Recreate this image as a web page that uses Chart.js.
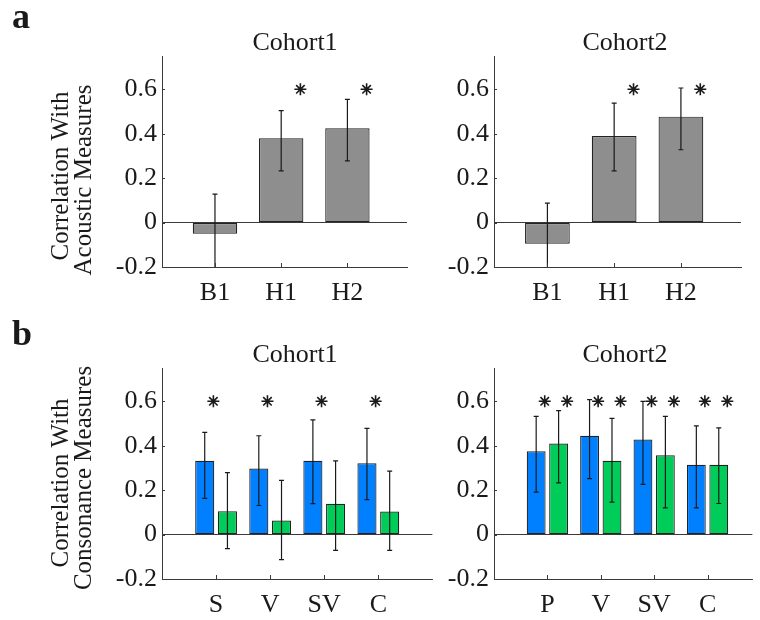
<!DOCTYPE html>
<html>
<head>
<meta charset="utf-8">
<script src="https://cdn.jsdelivr.net/npm/chart.js@4.4.1/dist/chart.umd.min.js"></script>
<style>
  body { margin: 0; background: #fff; }
  #wrap { position: relative; width: 760px; height: 620px; overflow: hidden; }
  canvas { position: absolute; }
</style>
</head>
<body>
<div id="wrap">
  <canvas id="a1" width="430" height="310" style="left:0;top:0"></canvas>
  <canvas id="a2" width="330" height="310" style="left:430px;top:0"></canvas>
  <canvas id="b1" width="440" height="310" style="left:0;top:310px"></canvas>
  <canvas id="b2" width="320" height="310" style="left:440px;top:310px"></canvas>
</div>
<script>
// y axis, shared by all four panels
const yTicks = [-0.2, 0, 0.2, 0.4, 0.6];
const yTickLabels = ['-0.2', '0', '0.2', '0.4', '0.6'];
const starLevel = 0.6;

// panel a
const catsA = ['B1', 'H1', 'H2'];
const a1Values = [-0.05, 0.38, 0.425];
const a1Lo     = [-0.23, 0.233, 0.278];
const a1Hi     = [0.128, 0.504, 0.555];
const a1Stars  = [false, true, true];

const a2Values = [-0.095, 0.39, 0.477];
const a2Lo     = [-0.23, 0.233, 0.328];
const a2Hi     = [0.088, 0.538, 0.606];
const a2Stars  = [false, true, true];

// panel b
const catsB1 = ['S', 'V', 'SV', 'C'];
const b1Blue    = [0.332, 0.297, 0.332, 0.321];
const b1BlueLo  = [0.163, 0.131, 0.139, 0.157];
const b1BlueHi  = [0.46, 0.445, 0.516, 0.478];
const b1Green   = [0.105, 0.063, 0.139, 0.104];
const b1GreenLo = [-0.063, -0.113, -0.071, -0.071];
const b1GreenHi = [0.279, 0.244, 0.332, 0.286];
const b1BlueStars  = [true, true, true, true];
const b1GreenStars = [false, false, false, false];

const catsB2 = ['P', 'V', 'SV', 'C'];
const b2Blue    = [0.375, 0.445, 0.428, 0.314];
const b2BlueLo  = [0.191, 0.252, 0.226, 0.12];
const b2BlueHi  = [0.532, 0.608, 0.6, 0.489];
const b2Green   = [0.41, 0.332, 0.357, 0.314];
const b2GreenLo = [0.233, 0.146, 0.12, 0.14];
const b2GreenHi = [0.558, 0.523, 0.532, 0.48];
const b2BlueStars  = [true, true, true, true];
const b2GreenStars = [true, true, true, true];

const FONT = 'Liberation Serif';
const INK = '#1a1a1a';
const AXIS = '#3a3a3a';
const GRAY = '#8e8e8e';
const BLUE = '#0080ff';
const GREEN = '#00cc5a';

// error bars, drawn on top of the bars
const errorBars = {
    id: 'errorBars',
    afterDatasetsDraw(chart) {
        const { ctx, chartArea: a } = chart;
        const y = chart.scales.y;
        ctx.save();
        ctx.beginPath();
        ctx.rect(a.left, a.top - 1, a.right - a.left, a.bottom - a.top + 1);
        ctx.clip();
        ctx.strokeStyle = INK;
        ctx.lineWidth = 1.2;
        chart.data.datasets.forEach((ds, i) => {
            if (!ds.errHi) return;
            chart.getDatasetMeta(i).data.forEach((bar, j) => {
                const top = y.getPixelForValue(ds.errHi[j]);
                const bot = y.getPixelForValue(ds.errLo[j]);
                ctx.beginPath();
                ctx.moveTo(bar.x, top); ctx.lineTo(bar.x, bot);
                ctx.moveTo(bar.x - 2.5, top); ctx.lineTo(bar.x + 2.5, top);
                ctx.moveTo(bar.x - 2.5, bot); ctx.lineTo(bar.x + 2.5, bot);
                ctx.stroke();
            });
        });
        ctx.restore();
    }
};

// inward tick marks and the free texts of a panel
const panelText = {
    id: 'panelText',
    afterDraw(chart, args, opts) {
        const { ctx, chartArea: a } = chart;
        ctx.save();
        ctx.strokeStyle = AXIS;
        ctx.lineWidth = 1;
        ctx.beginPath();
        chart.scales.x.ticks.forEach(t => {
            const px = Math.round(chart.scales.x.getPixelForValue(t.value)) + 0.5;
            ctx.moveTo(px, a.bottom); ctx.lineTo(px, a.bottom - 4);
        });
        chart.scales.y.ticks.forEach(t => {
            const py = Math.round(chart.scales.y.getPixelForValue(t.value)) + 0.5;
            ctx.moveTo(a.left, py); ctx.lineTo(a.left + 3, py);
        });
        ctx.stroke();

        ctx.fillStyle = INK;
        (opts.texts || []).forEach(t => {
            ctx.save();
            ctx.font = t.font;
            ctx.textAlign = t.align || 'center';
            ctx.textBaseline = 'alphabetic';
            ctx.translate(t.x, t.y);
            if (t.rotate) ctx.rotate(-Math.PI / 2);
            ctx.fillText(t.text, 0, 0);
            ctx.restore();
        });
        ctx.restore();
    }
};

function makePanel(id, p) {
    const datasets = p.series.map(s => ({
        type: 'bar',
        data: p.categories.map((c, i) => ({ x: i + 1, y: s.values[i] })),
        errLo: s.lo,
        errHi: s.hi,
        backgroundColor: s.color,
        borderColor: '#222',
        borderWidth: 1.2,
        borderSkipped: false,
        barPercentage: p.barPct,
        categoryPercentage: p.catPct,
        order: 2
    }));

    const stars = [];
    p.series.forEach(s => s.stars.forEach((on, i) => {
        if (on) stars.push({ x: i + 1 + s.starShift, y: starLevel });
    }));
    datasets.push({
        type: 'scatter',
        data: stars,
        pointStyle: 'star',
        radius: 6,
        borderColor: INK,
        borderWidth: 1.6,
        order: 1
    });

    new Chart(document.getElementById(id), {
        type: 'bar',
        data: { datasets },
        plugins: [errorBars, panelText],
        options: {
            responsive: false,
            animation: false,
            layout: { padding: { left: 0, top: p.padTop, right: p.padRight, bottom: 0 } },
            plugins: {
                legend: { display: false },
                tooltip: { enabled: false },
                panelText: { texts: p.texts }
            },
            scales: {
                x: {
                    type: 'linear',
                    min: p.xMin,
                    max: p.xMax,
                    offset: false,
                    afterFit: s => { s.height = p.xHeight; },
                    afterBuildTicks: s => { s.ticks = p.categories.map((c, i) => ({ value: i + 1 })); },
                    grid: { drawOnChartArea: false, drawTicks: false, offset: false },
                    border: { color: AXIS, width: 1 },
                    ticks: {
                        callback: (v, i) => p.categories[i],
                        font: { family: FONT, size: 26 },
                        color: INK,
                        padding: 11,
                        autoSkip: false,
                        maxRotation: 0
                    }
                },
                y: {
                    min: -0.2,
                    max: 0.75,
                    afterFit: s => { s.width = p.yWidth; },
                    afterBuildTicks: s => { s.ticks = yTicks.map(v => ({ value: v })); },
                    grid: {
                        color: c => (c.tick && c.tick.value === 0 ? AXIS : 'rgba(0,0,0,0)'),
                        drawTicks: false
                    },
                    border: { color: AXIS, width: 1 },
                    ticks: {
                        callback: (v, i) => yTickLabels[i],
                        font: { family: FONT, size: 26 },
                        color: INK,
                        padding: 5
                    }
                }
            }
        }
    });
}

const titleFont = '26px "' + FONT + '"';
const yTitleFont = '25px "' + FONT + '"';
const letterFont = 'bold 36px "' + FONT + '"';

makePanel('a1', {
    categories: catsA, xMin: 0.2, xMax: 3.9, barPct: 0.67, catPct: 1,
    yWidth: 162, padTop: 56, padRight: 23, xHeight: 43,
    series: [{ values: a1Values, lo: a1Lo, hi: a1Hi, color: GRAY, stars: a1Stars, starShift: 0.29 }],
    texts: [
        { text: 'a', x: 12, y: 28, font: letterFont, align: 'left' },
        { text: 'Cohort1', x: 295, y: 50, font: titleFont },
        { text: 'Correlation With', x: 68, y: 176, font: yTitleFont, rotate: true },
        { text: 'Acoustic Measures', x: 91, y: 180, font: yTitleFont, rotate: true }
    ]
});

makePanel('a2', {
    categories: catsA, xMin: 0.2, xMax: 3.9, barPct: 0.67, catPct: 1,
    yWidth: 64, padTop: 56, padRight: 19, xHeight: 43,
    series: [{ values: a2Values, lo: a2Lo, hi: a2Hi, color: GRAY, stars: a2Stars, starShift: 0.29 }],
    texts: [
        { text: 'Cohort2', x: 625 - 430, y: 50, font: titleFont }
    ]
});

makePanel('b1', {
    categories: catsB1, xMin: 0, xMax: 5, barPct: 0.84, catPct: 0.84,
    yWidth: 162, padTop: 58, padRight: 4, xHeight: 41,
    series: [
        { values: b1Blue, lo: b1BlueLo, hi: b1BlueHi, color: BLUE, stars: b1BlueStars, starShift: -0.05 },
        { values: b1Green, lo: b1GreenLo, hi: b1GreenHi, color: GREEN, stars: b1GreenStars, starShift: 0.37 }
    ],
    texts: [
        { text: 'b', x: 12, y: 35, font: letterFont, align: 'left' },
        { text: 'Cohort1', x: 295, y: 52, font: titleFont },
        { text: 'Correlation With', x: 68, y: 173, font: yTitleFont, rotate: true },
        { text: 'Consonance Measures', x: 91, y: 168, font: yTitleFont, rotate: true }
    ]
});

makePanel('b2', {
    categories: catsB2, xMin: 0, xMax: 4.84, barPct: 0.84, catPct: 0.84,
    yWidth: 54, padTop: 58, padRight: 0, xHeight: 41,
    series: [
        { values: b2Blue, lo: b2BlueLo, hi: b2BlueHi, color: BLUE, stars: b2BlueStars, starShift: -0.05 },
        { values: b2Green, lo: b2GreenLo, hi: b2GreenHi, color: GREEN, stars: b2GreenStars, starShift: 0.37 }
    ],
    texts: [
        { text: 'Cohort2', x: 625 - 440, y: 52, font: titleFont }
    ]
});
</script>
</body>
</html>
